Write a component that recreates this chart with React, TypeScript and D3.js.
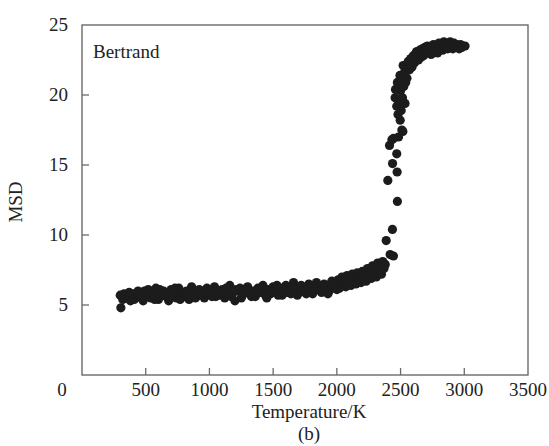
import { scaleLinear } from "d3";

// Solid state band (K, MSD)
const bandTemps = [
  300, 305, 320, 340, 360, 380, 400, 420, 440, 460, 480, 500, 520, 540, 560, 580, 600, 620, 640, 660,
  680, 700, 720, 740, 760, 780, 800, 820, 840, 860, 880, 900, 920, 940, 960, 980, 1000, 1020, 1040,
  1060, 1080, 1100, 1120, 1140, 1160, 1180, 1200, 1220, 1240, 1260, 1280, 1300, 1320, 1340, 1360,
  1380, 1400, 1420, 1440, 1460, 1480, 1500, 1520, 1540, 1560, 1580, 1600, 1620, 1640, 1660, 1680,
  1700, 1720, 1740, 1760, 1780, 1800, 1820, 1840, 1860, 1880, 1900, 1920, 1940, 1960, 1980, 2000,
];
const bandMsd = [
  5.7, 4.8, 5.4, 5.5, 5.6, 5.3, 5.8, 5.5, 6.0, 5.6, 5.3, 5.9, 6.1, 5.5, 5.7, 6.2, 5.4, 5.8, 6.0, 5.6,
  5.3, 6.1, 5.8, 5.5, 6.2, 5.9, 5.6, 6.0, 5.4, 6.3, 5.8, 5.6, 6.1, 5.9, 5.5, 6.2, 5.8, 5.6, 6.3,
  5.9, 5.7, 6.1, 5.5, 6.0, 6.4, 5.8, 5.3, 6.0, 6.2, 5.7, 5.9, 6.3, 5.8, 6.0, 5.6,
  6.2, 5.9, 6.4, 5.7, 6.1, 5.8, 6.3, 6.0, 5.7, 6.2, 5.9, 6.4, 6.1, 5.8, 6.6, 6.2,
  5.9, 6.4, 6.1, 5.8, 6.5, 6.2, 6.0, 6.6, 6.3, 5.9, 6.5, 6.2, 6.0, 6.7, 6.3, 6.1,
];

// second pass through the band
const bandTemps2 = [
  330, 370, 410, 450, 490, 530, 570, 610, 650, 690, 730, 770, 810, 850, 890, 930, 970, 1010, 1050,
  1090, 1130, 1170, 1210, 1250, 1290, 1330, 1370, 1410, 1450, 1490, 1530, 1570, 1610, 1650, 1690,
  1730, 1770, 1810, 1850, 1890, 1930, 1970,
];
const bandMsd2 = [
  5.8, 5.9, 5.4, 5.7, 6.0, 5.6, 5.4, 6.1, 5.7, 5.9, 6.2, 5.4, 5.8, 6.0, 5.5, 5.8, 6.0, 6.1, 5.6,
  5.9, 6.2, 5.6, 6.1, 5.5, 6.2, 5.6, 5.9, 6.1, 5.5, 6.0, 6.4, 5.7, 5.9, 6.2, 5.7,
  6.0, 6.3, 5.8, 6.1, 6.4, 5.8, 6.4,
];

// rising part before the jump
const preTemps = [
  2010, 2020, 2030, 2040, 2050, 2060, 2070, 2080, 2090, 2100, 2110, 2120, 2130, 2140, 2150, 2160,
  2170, 2180, 2190, 2200, 2210, 2220, 2230, 2240, 2250, 2260, 2270, 2280, 2290, 2300, 2310, 2320,
  2330, 2340, 2350, 2360, 2370, 2380,
];
const preMsd = [
  6.8, 6.2, 6.6, 7.0, 6.4, 6.7, 6.3, 7.1, 6.6, 6.9, 6.4, 7.2, 6.7, 7.0, 6.5, 7.3,
  6.8, 7.1, 6.6, 7.4, 6.9, 7.2, 6.7, 7.6, 7.0, 7.4, 6.9, 7.8, 7.2, 7.5, 7.0, 8.0,
  7.4, 7.7, 7.2, 8.1, 7.6, 7.9,
];

// melting jump
const jumpTemps = [
  2387, 2418, 2444, 2436, 2475, 2400, 2473, 2437, 2470, 2413, 2432, 2484, 2444, 2518, 2510, 2497,
];
const jumpMsd = [
  9.6, 8.6, 8.5, 10.4, 12.4, 13.9, 14.5, 15.1, 15.8, 16.4, 16.8, 17.0, 16.9, 17.4, 17.5, 18.2,
];

// liquid plateau
const liquidTemps = [
  2457, 2470, 2480, 2490, 2500, 2505, 2515, 2525, 2535, 2540, 2460, 2475, 2495, 2510, 2520, 2530,
  2545, 2550, 2560, 2570, 2580, 2590, 2600, 2610, 2620, 2627, 2640, 2650, 2660, 2670, 2680, 2690,
  2700, 2710, 2720, 2730, 2740, 2758, 2770, 2780, 2790, 2800, 2810, 2820, 2830, 2840, 2850, 2860,
  2870, 2880, 2889, 2900, 2910, 2920, 2930, 2940, 2950, 2960, 2970, 2980, 2990, 3006,
];
const liquidMsd = [
  19.8, 19.2, 18.6, 19.5, 20.3, 18.9, 19.8, 20.6, 19.4, 20.9, 20.4, 20.9, 21.4, 21.0, 22.1, 21.6,
  22.0, 21.2, 22.4, 21.8, 22.6, 22.0, 22.8, 22.3, 23.0, 23.1, 22.5, 23.2, 22.7, 23.3, 22.8, 23.4,
  23.0, 23.5, 23.1, 23.3, 22.9, 23.6, 23.2, 23.5, 23.0, 23.7, 23.3, 23.6, 23.2, 23.8, 23.4, 23.6,
  23.3, 23.7, 23.8, 23.5, 23.3, 23.7, 23.4, 23.6, 23.5, 23.3, 23.6, 23.4, 23.5, 23.5,
];

const xTicks = [500, 1000, 1500, 2000, 2500, 3000, 3500];
const yTicks = [5, 10, 15, 20, 25];

const series = [
  [bandTemps, bandMsd],
  [bandTemps2, bandMsd2],
  [preTemps, preMsd],
  [jumpTemps, jumpMsd],
  [liquidTemps, liquidMsd],
];

const App = () => {
  const width = 549;
  const height = 446;
  const margin = { top: 25, right: 21, bottom: 71, left: 82 };
  const innerWidth = width - margin.left - margin.right;
  const innerHeight = height - margin.top - margin.bottom;

  const x = scaleLinear().domain([0, 3500]).range([0, innerWidth]);
  const y = scaleLinear().domain([0, 25]).range([innerHeight, 0]);

  const font = "'Liberation Serif', 'Times New Roman', serif";
  const textColor = "#222";
  const axisColor = "#6a6a6a";

  return (
    <svg
      width={width}
      height={height}
      style={{ position: "absolute", left: 0, top: 0, background: "#fff" }}
      fontFamily={font}
      fontSize={19}
    >
      <g transform={`translate(${margin.left}, ${margin.top})`}>
        {series.map(([ts, vs], si) =>
          ts.map((t, i) => (
            <circle key={`${si}-${i}`} cx={x(t)} cy={y(vs[i])} r={4.6} fill="#1c1c1c" />
          ))
        )}

        <rect
          x={0}
          y={0}
          width={innerWidth}
          height={innerHeight}
          fill="none"
          stroke={axisColor}
          strokeWidth={1.4}
        />

        {xTicks.map((t) => (
          <g key={t}>
            {t < 3500 && (
              <line x1={x(t)} x2={x(t)} y1={innerHeight} y2={innerHeight - 7} stroke={axisColor} strokeWidth={1.3} />
            )}
            <text x={x(t)} y={innerHeight + 21} textAnchor="middle" fill={textColor}>
              {t}
            </text>
          </g>
        ))}
        <text x={-20} y={innerHeight + 21} textAnchor="middle" fill={textColor}>
          0
        </text>

        {yTicks.map((t) => (
          <g key={t}>
            {t < 25 && (
              <line x1={0} x2={7} y1={y(t)} y2={y(t)} stroke={axisColor} strokeWidth={1.3} />
            )}
            <text x={-14} y={y(t)} dy="0.33em" textAnchor="end" fill={textColor}>
              {t}
            </text>
          </g>
        ))}

        <text x={11} y={33} fill={textColor}>
          Bertrand
        </text>

        <text x={innerWidth / 2 + 4} y={innerHeight + 43} textAnchor="middle" fill={textColor}>
          Temperature/K
        </text>
        <text x={innerWidth / 2 + 4} y={innerHeight + 65} textAnchor="middle" fill={textColor}>
          (b)
        </text>
        <text
          transform={`translate(${-60}, ${innerHeight / 2 + 2}) rotate(-90)`}
          textAnchor="middle"
          fill={textColor}
        >
          MSD
        </text>
      </g>
    </svg>
  );
};

export default App;
